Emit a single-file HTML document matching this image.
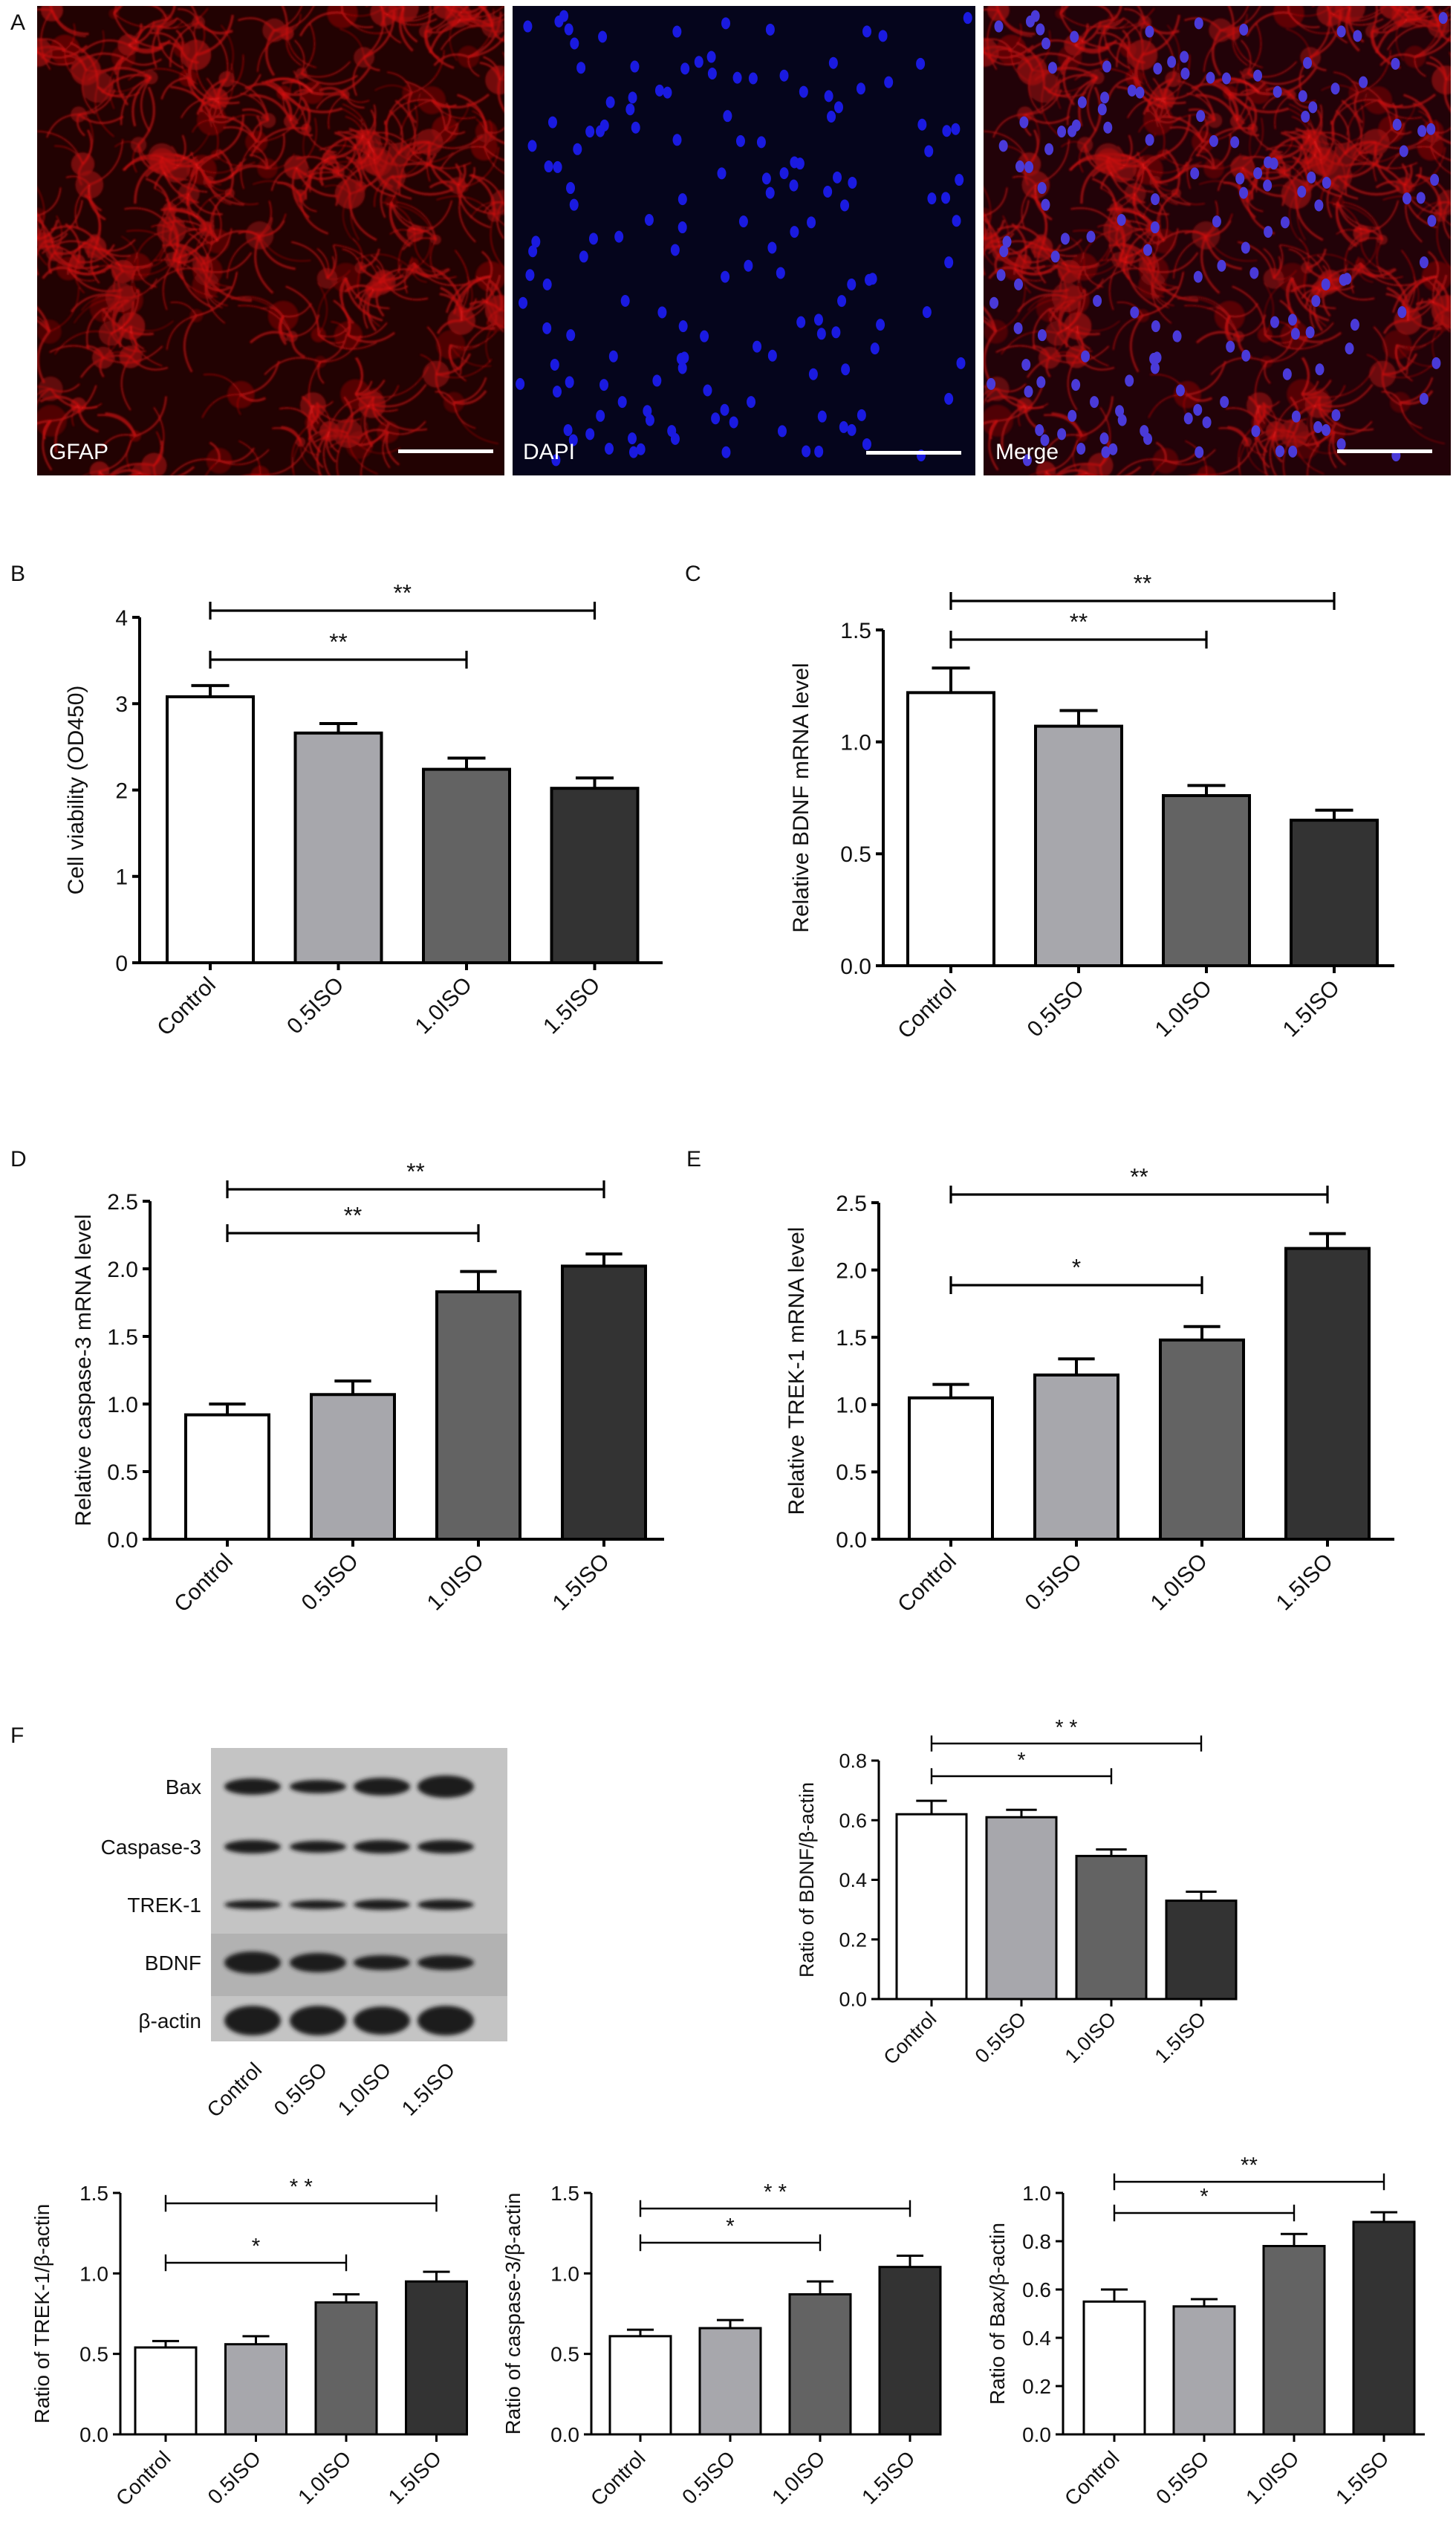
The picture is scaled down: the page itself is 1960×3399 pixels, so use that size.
<!DOCTYPE html>
<html><head><meta charset="utf-8"><style>
html,body{margin:0;padding:0;background:#fff}
svg{display:block}
text{font-family:"Liberation Sans",Arial,sans-serif;fill:#111}
</style></head><body>
<svg id="fig" width="1960" height="3399" viewBox="0 0 1960 3399" xmlns="http://www.w3.org/2000/svg">
<defs>
<filter id="blur3"><feGaussianBlur stdDeviation="3"/></filter>
<filter id="blur1"><feGaussianBlur stdDeviation="1.2"/></filter>
<clipPath id="clipG"><rect x="50" y="8" width="629" height="632"/></clipPath>
<clipPath id="clipD"><rect x="690" y="8" width="623" height="632"/></clipPath>
<clipPath id="clipM"><rect x="1324" y="8" width="629" height="632"/></clipPath>
</defs>
<g id="panelA">
<text x="14" y="40" font-size="30">A</text>
<rect x="50" y="8" width="629" height="632" fill="#220202"/>
<g clip-path="url(#clipG)"><g id="gfapTex" filter="url(#blur1)"></g></g>
<rect x="690" y="8" width="623" height="632" fill="#05051c"/>
<g clip-path="url(#clipD)"><g id="dapiTex"></g></g>
<rect x="1324" y="8" width="629" height="632" fill="#220208"/>
<g clip-path="url(#clipM)"><g id="mergeTex" filter="url(#blur1)"></g><g id="mergeDots"></g></g>
<text x="66" y="618" font-size="30" style="fill:#fff">GFAP</text>
<text x="704" y="618" font-size="30" style="fill:#fff">DAPI</text>
<text x="1340" y="618" font-size="30" style="fill:#fff">Merge</text>
<rect x="536" y="605" width="128" height="5" fill="#fff"/>
<rect x="1166" y="607" width="128" height="5" fill="#fff"/>
<rect x="1800" y="605" width="128" height="5" fill="#fff"/>
</g>
<g id="charts"></g>
<g id="blot">
<text x="14" y="2346" font-size="30">F</text>
<rect x="284" y="2353" width="399" height="395" fill="#c4c4c4"/>
<rect x="284" y="2603" width="399" height="84" fill="#b2b2b2"/>
<g id="bands" filter="url(#blur3)"></g>
<g id="blotLabels"></g>
</g>
</svg>
<script>
// ---------- Chart data ----------
const groups = ["Control","0.5ISO","1.0ISO","1.5ISO"];
const barFills = ["#ffffff","#a7a7ac","#636363","#333333"];

const viabilityValues = [3.08, 2.66, 2.24, 2.02];
const viabilityErrors = [0.13, 0.11, 0.13, 0.12];
const viabilityTicks = [0,1,2,3,4];

const bdnfMrnaValues = [1.22, 1.07, 0.76, 0.65];
const bdnfMrnaErrors = [0.11, 0.07, 0.045, 0.045];
const bdnfMrnaTicks = [0.0,0.5,1.0,1.5];

const casp3MrnaValues = [0.92, 1.07, 1.83, 2.02];
const casp3MrnaErrors = [0.08, 0.10, 0.15, 0.09];
const casp3MrnaTicks = [0.0,0.5,1.0,1.5,2.0,2.5];

const trekMrnaValues = [1.05, 1.22, 1.48, 2.16];
const trekMrnaErrors = [0.10, 0.12, 0.10, 0.11];
const trekMrnaTicks = [0.0,0.5,1.0,1.5,2.0,2.5];

const bdnfRatioValues = [0.62, 0.61, 0.48, 0.33];
const bdnfRatioErrors = [0.045, 0.025, 0.022, 0.03];
const bdnfRatioTicks = [0.0,0.2,0.4,0.6,0.8];

const trekRatioValues = [0.54, 0.56, 0.82, 0.95];
const trekRatioErrors = [0.04, 0.05, 0.05, 0.06];
const trekRatioTicks = [0.0,0.5,1.0,1.5];

const casp3RatioValues = [0.61, 0.66, 0.87, 1.04];
const casp3RatioErrors = [0.04, 0.05, 0.08, 0.07];
const casp3RatioTicks = [0.0,0.5,1.0,1.5];

const baxRatioValues = [0.55, 0.53, 0.78, 0.88];
const baxRatioErrors = [0.05, 0.03, 0.05, 0.04];
const baxRatioTicks = [0.0,0.2,0.4,0.6,0.8,1.0];

const NS = "http://www.w3.org/2000/svg";
function mk(tag, attrs, parent){const e=document.createElementNS(NS,tag);for(const k in attrs)e.setAttribute(k,attrs[k]);if(parent)parent.appendChild(e);return e;}

function drawChart(c){
  const root=document.getElementById('charts');
  const g=mk('g',{},root);
  
  
  const tmax=c.ticks[c.ticks.length-1];
  const y=v=>c.y0-(v/tmax)*(c.y0-c.yTop);
  const x=i=>c.c0+i*c.step;
  const sw=c.sw;
  const xfs=c.xfs||c.fs;
  if(c.label){const t=mk('text',{x:c.lx,y:c.ly,'font-size':30},g);t.textContent=c.label;
    
    }
  c.values.forEach((v,i)=>{
    const r=mk('rect',{x:x(i)-c.bw/2,y:y(v),width:c.bw,height:c.y0-y(v),fill:barFills[i],stroke:'#000','stroke-width':sw},g);
    
    
    const e=v+c.errors[i];
    const eb=mk('path',{d:`M${x(i)} ${y(v)}V${y(e)}M${x(i)-c.bw*0.22} ${y(e)}H${x(i)+c.bw*0.22}`,stroke:'#000','stroke-width':sw,fill:'none'},g);
    
    
  });
  const ax=mk('path',{d:`M${c.ax} ${y(tmax)}V${c.y0}H${c.xEnd}`,stroke:'#000','stroke-width':sw,fill:'none'},g);
  
  
  c.ticks.forEach(t=>{
    mk('path',{d:`M${c.ax-10} ${y(t)}H${c.ax}`,stroke:'#000','stroke-width':sw},g);
    const tx=mk('text',{x:c.ax-16,y:y(t)+c.fs*0.36,'font-size':c.fs,'text-anchor':'end'},g);
    tx.textContent=c.dec?t.toFixed(c.dec):String(t);
    
    
  });
  groups.forEach((gname,i)=>{
    mk('path',{d:`M${x(i)} ${c.y0}V${c.y0+10}`,stroke:'#000','stroke-width':sw},g);
    const lx=x(i)+xfs*0.3, ly=c.y0+(c.xoff||xfs*1.05);
    const tx=mk('text',{x:lx,y:ly,'font-size':xfs,'text-anchor':'end',transform:`rotate(-45 ${lx} ${ly})`},g);
    tx.textContent=gname;
    
    
  });
  const ty=(c.y0+y(tmax))/2;
  const tt=mk('text',{x:c.tx,y:ty,'font-size':c.fs,'text-anchor':'middle',transform:`rotate(-90 ${c.tx} ${ty})`},g);
  tt.textContent=c.title;
  
  
  c.sig.forEach(s=>{
    const x1=x(0), x2=x(s.to), yy=s.y, h=c.fs*0.4;
    const p=mk('path',{d:`M${x1} ${yy-h}V${yy+h}M${x1} ${yy}H${x2}M${x2} ${yy-h}V${yy+h}`,stroke:'#000','stroke-width':sw*0.8,fill:'none'},g);
    
    
    const st=mk('text',{x:(x1+x2)/2,y:yy-c.fs*0.45,'font-size':c.fs*1.05,'text-anchor':'middle'},g);
    st.textContent=s.mark;
    
    
  });
}

drawChart({name:'chart-b-cell-viability',label:'B',lx:14,ly:782,values:viabilityValues,errors:viabilityErrors,ticks:viabilityTicks,dec:0,
  ax:188,y0:1296,yTop:831,xEnd:892,c0:283,step:172.5,bw:116,sw:4,fs:30,tx:112,title:'Cell viability (OD450)',
  sig:[{to:3,y:822,mark:'**'},{to:2,y:888,mark:'**'}]});
drawChart({name:'chart-c-bdnf-mrna',label:'C',lx:922,ly:782,values:bdnfMrnaValues,errors:bdnfMrnaErrors,ticks:bdnfMrnaTicks,dec:1,
  ax:1189,y0:1300,yTop:848,xEnd:1877,c0:1280,step:172,bw:116,sw:4,fs:30,tx:1088,title:'Relative BDNF mRNA level',
  sig:[{to:3,y:809,mark:'**'},{to:2,y:861,mark:'**'}]});
drawChart({name:'chart-d-caspase3-mrna',label:'D',lx:14,ly:1570,values:casp3MrnaValues,errors:casp3MrnaErrors,ticks:casp3MrnaTicks,dec:1,
  ax:202,y0:2072,yTop:1617,xEnd:894,c0:306,step:169,bw:112,sw:4,fs:30,tx:122,title:'Relative caspase-3 mRNA level',
  sig:[{to:3,y:1601,mark:'**'},{to:2,y:1660,mark:'**'}]});
drawChart({name:'chart-e-trek1-mrna',label:'E',lx:924,ly:1570,values:trekMrnaValues,errors:trekMrnaErrors,ticks:trekMrnaTicks,dec:1,
  ax:1183,y0:2072,yTop:1619,xEnd:1877,c0:1280,step:169,bw:112,sw:4,fs:30,tx:1082,title:'Relative TREK-1 mRNA level',
  sig:[{to:3,y:1608,mark:'**'},{to:2,y:1730,mark:'*'}]});
drawChart({name:'chart-f-bdnf-ratio',values:bdnfRatioValues,errors:bdnfRatioErrors,ticks:bdnfRatioTicks,dec:1,
  ax:1183,y0:2691,yTop:2370,xEnd:1660,c0:1254,step:121,bw:94,sw:3,fs:27,tx:1095,title:'Ratio of BDNF/β-actin',
  sig:[{to:3,y:2347,mark:'* *'},{to:2,y:2391,mark:'*'}]});
drawChart({name:'chart-f-trek1-ratio',values:trekRatioValues,errors:trekRatioErrors,ticks:trekRatioTicks,dec:1,
  ax:162,y0:3277,yTop:2952,xEnd:630,c0:223,step:121.5,bw:82,sw:3,fs:28,xfs:28,xoff:34,tx:66,title:'Ratio of TREK-1/β-actin',
  sig:[{to:3,y:2966,mark:'* *'},{to:2,y:3046,mark:'*'}]});
drawChart({name:'chart-f-caspase3-ratio',values:casp3RatioValues,errors:casp3RatioErrors,ticks:casp3RatioTicks,dec:1,
  ax:796,y0:3277,yTop:2952,xEnd:1266,c0:862,step:121,bw:82,sw:3,fs:28,xfs:28,xoff:34,tx:700,title:'Ratio of caspase-3/β-actin',
  sig:[{to:3,y:2973,mark:'* *'},{to:2,y:3019,mark:'*'}]});
drawChart({name:'chart-f-bax-ratio',values:baxRatioValues,errors:baxRatioErrors,ticks:baxRatioTicks,dec:1,
  ax:1431,y0:3277,yTop:2952,xEnd:1918,c0:1500,step:121,bw:82,sw:3,fs:28,xfs:28,xoff:34,tx:1352,title:'Ratio of Bax/β-actin',
  sig:[{to:3,y:2937,mark:'**'},{to:2,y:2979,mark:'*'}]});

// ---------- Western blot ----------
const blotRows=["Bax","Caspase-3","TREK-1","BDNF","β-actin"];
const blotRowY=[2405,2486,2564,2642,2720];
const blotBandH=[[22,18,24,30],[18,16,18,18],[12,12,14,14],[30,26,20,20],[40,40,38,40]];
const bandsG=document.getElementById('bands');
const blotLab=document.getElementById('blotLabels');
const laneX=[340,428,514,600];
blotRows.forEach((r,ri)=>{
  const t=mk('text',{x:271,y:blotRowY[ri]+10,'font-size':28,'text-anchor':'end'},blotLab);
  t.textContent=r;
  
  
  laneX.forEach((lx,li)=>{
    const b=mk('ellipse',{cx:lx,cy:blotRowY[ri],rx:38,ry:blotBandH[ri][li]/2,fill:'#1c1c1c'},bandsG);
    
    
  });
});
groups.forEach((gname,i)=>{
  const lx=laneX[i]+14, ly=2788;
  const t=mk('text',{x:lx,y:ly,'font-size':28,'text-anchor':'end',transform:`rotate(-45 ${lx} ${ly})`},blotLab);
  t.textContent=gname;
  
  
});

// ---------- Microscopy textures (decorative) ----------
let seed=7;function rnd(){seed=(seed*16807)%2147483647;return seed/2147483647;}
function fibers(gid,x0,w,n){
  const g=document.getElementById(gid);
  for(let i=0;i<n;i++){
    const cx=x0+rnd()*w, cy=8+rnd()*632;
    mk('circle',{cx,cy,r:6+rnd()*16,fill:'#a80e0e',opacity:0.3+rnd()*0.4},g);
    for(let k=0;k<5;k++){
      const a=rnd()*6.28,l=25+rnd()*60;
      mk('path',{d:`M${cx} ${cy}Q${cx+Math.cos(a+0.6)*l*0.6} ${cy+Math.sin(a+0.6)*l*0.6} ${cx+Math.cos(a)*l} ${cy+Math.sin(a)*l}`,stroke:'#d81414','stroke-width':1+rnd()*2.5,fill:'none',opacity:0.6},g);
    }
  }
}
function dots(gid,x0,w,n,col){
  const g=document.getElementById(gid);
  for(let i=0;i<n;i++){
    mk('ellipse',{cx:x0+10+rnd()*(w-20),cy:20+rnd()*610,rx:6,ry:8,fill:col},g);
  }
}
seed=11;fibers('gfapTex',50,629,150);
seed=11;fibers('mergeTex',1324,629,150);
seed=29;dots('dapiTex',690,623,150,'#1a1ae0');
seed=29;dots('mergeDots',1324,629,150,'#4a3ad8');
</script>
</body></html>
